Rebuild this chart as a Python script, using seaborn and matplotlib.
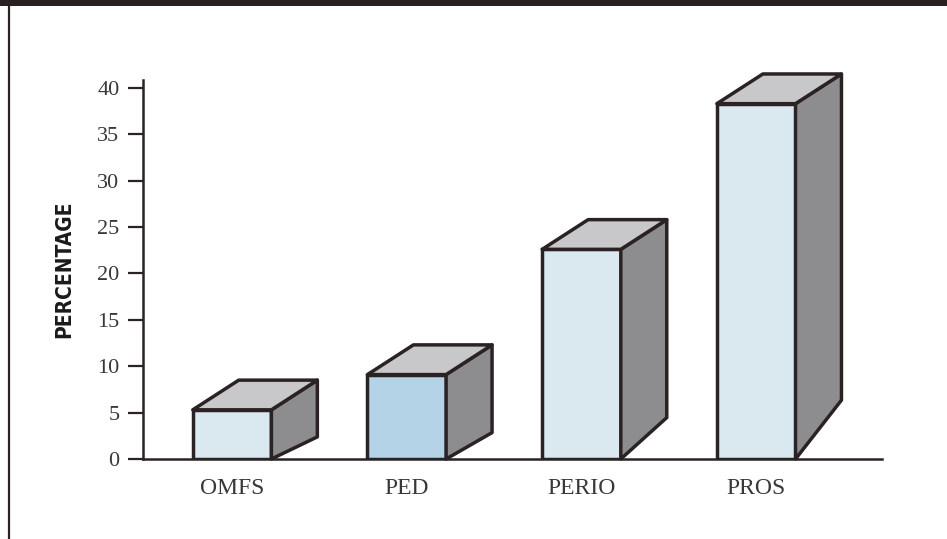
import numpy as np
import pandas as pd
import matplotlib.pyplot as plt
import seaborn as sns
from matplotlib.patches import Polygon

# Data
categories = ['OMFS', 'PED', 'PERIO', 'PROS']
percentages = [5.3, 9.1, 22.6, 38.3]
face_colors = ['#dae8f0', '#b4d3e7', '#dae8f0', '#dae8f0']

df = pd.DataFrame({'Specialty': categories, 'Percentage': percentages})

sns.set_theme(style="white")
plt.rcParams['font.family'] = ['Liberation Serif', 'DejaVu Serif']

edge = '#2b2224'
top_color = '#c8c8ca'
side_color = '#8d8d8f'
bar_w = 0.45
depth_x = 0.263   # 3D depth in category units
depth_y = 3.2     # 3D depth in data units

fig = plt.figure(figsize=(9.47, 5.39), dpi=100)
ax = fig.add_axes([143 / 947, 1 - 459 / 539, (882 - 143) / 947, (459 - 80) / 539])

sns.barplot(data=df, x='Specialty', y='Percentage', hue='Specialty',
            palette=face_colors, width=bar_w, edgecolor=edge, linewidth=2.5,
            legend=False, ax=ax, zorder=3, saturation=1)

# Top and side faces to give the bars a 3D look
for i, v in enumerate(percentages):
    x0, x1 = i - bar_w / 2, i + bar_w / 2
    top = Polygon([(x0, v), (x1, v), (x1 + depth_x, v + depth_y), (x0 + depth_x, v + depth_y)],
                  closed=True, facecolor=top_color, edgecolor=edge, linewidth=2.5,
                  zorder=4, clip_on=False, joinstyle='round')
    lift = 1.75 + 0.12 * v
    side = Polygon([(x1, 0), (x1, v), (x1 + depth_x, v + depth_y), (x1 + depth_x, lift)],
                   closed=True, facecolor=side_color, edgecolor=edge, linewidth=2.5,
                   zorder=4, clip_on=False, joinstyle='round')
    ax.add_patch(side)
    ax.add_patch(top)

ax.set_xlim(-0.51, 3.72)
ax.set_ylim(0, 40.85)
ax.set_yticks(np.arange(0, 41, 5))
ax.set_xlabel('')
ax.set_ylabel('PERCENTAGE', family='DejaVu Sans', fontstretch='condensed',
              fontweight='bold', fontsize=15, color='#1a1a1a')
ax.yaxis.set_label_coords(-0.093, 0.5)

sns.despine(ax=ax)
for s in ['left', 'bottom']:
    ax.spines[s].set_color(edge)
    ax.spines[s].set_linewidth(1.8)
    ax.spines[s].set_zorder(2)
ax.tick_params(axis='y', direction='out', length=11, width=1.6, color=edge,
               pad=6, labelsize=16, labelcolor='#383838', left=True)
ax.tick_params(axis='x', length=0, pad=14, labelsize=17, labelcolor='#383838')

# Frame pieces from the page: dark header band and left rule
fig.patches.append(plt.Rectangle((0, 1 - 6 / 539), 1, 6 / 539, transform=fig.transFigure,
                                 facecolor='#2a2022', edgecolor='none'))
fig.add_artist(plt.Line2D([9 / 947, 9 / 947], [0, 1 - 6 / 539], transform=fig.transFigure,
                          color=edge, linewidth=1.6))

plt.savefig('out.png', dpi=100)
